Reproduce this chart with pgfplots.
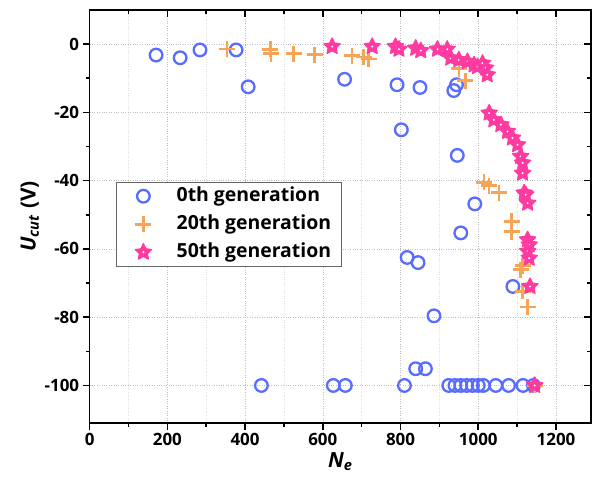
\documentclass[border=0pt]{standalone}
\usepackage{pgfplots}
\pgfplotsset{compat=1.18}
\usepackage{fontspec}
\setmainfont{Open Sans}
\definecolor{cblue}{RGB}{88,108,255}
\definecolor{corange}{RGB}{247,164,86}
\definecolor{cpink}{RGB}{255,58,160}
\pgfdeclareplotmark{pstar}{%
  \pgfpathmoveto{\pgfpointpolar{90}{\pgfplotmarksize}}%
  \pgfpathlineto{\pgfpointpolar{126}{0.5\pgfplotmarksize}}%
  \pgfpathlineto{\pgfpointpolar{162}{\pgfplotmarksize}}%
  \pgfpathlineto{\pgfpointpolar{198}{0.5\pgfplotmarksize}}%
  \pgfpathlineto{\pgfpointpolar{234}{\pgfplotmarksize}}%
  \pgfpathlineto{\pgfpointpolar{270}{0.5\pgfplotmarksize}}%
  \pgfpathlineto{\pgfpointpolar{306}{\pgfplotmarksize}}%
  \pgfpathlineto{\pgfpointpolar{342}{0.5\pgfplotmarksize}}%
  \pgfpathlineto{\pgfpointpolar{18}{\pgfplotmarksize}}%
  \pgfpathlineto{\pgfpointpolar{54}{0.5\pgfplotmarksize}}%
  \pgfpathclose\pgfusepathqfillstroke
  \begin{pgfscope}%
  \pgfsetfillcolor{white}%
  \pgfpathcircle{\pgfpointorigin}{0.13\pgfplotmarksize}\pgfusepathqfill
  \end{pgfscope}%
}
\pgfplotstableread{
x y
171 -3.2
233 -4.0
284 -1.7
377 -1.7
408 -12.5
656 -10.3
791 -11.9
850 -12.7
937 -13.6
944 -11.9
802 -25.1
946 -32.6
991 -46.8
955 -55.3
817 -62.5
845 -64.0
1089 -71.0
886 -79.6
839 -95.1
864 -95.1
442 -100
627 -100
658 -100
810 -100
924 -100
940 -100
955 -100
970 -100
985 -100
1000 -100
1013 -100
1045 -100
1078 -100
1115 -100
1142 -100
}\gzero
\pgfplotstableread{
x y
353 -1.4
465 -1.5
467 -2.8
525 -2.8
579 -3.1
675 -3.4
705 -3.8
718 -4.4
950 -7.2
967 -10.7
1015 -40.5
1028 -41.5
1053 -43.5
1086 -51.9
1086 -54.9
1114 -64.9
1109 -66.1
1114 -72.4
1127 -77.0
1145 -100
}\gtwenty
\pgfplotstableread{
x y
624 -0.7
727 -0.7
787 -0.7
796 -1.5
839 -1.2
852 -1.9
895 -1.5
920 -1.5
929 -4.1
950 -4.6
972 -5.1
989 -6.1
998 -6.6
1011 -5.6
1019 -7.0
1023 -9.0
1028 -20.2
1040 -22.2
1058 -23.6
1075 -25.6
1088 -27.5
1101 -29.5
1109 -32.9
1114 -34.8
1114 -37.8
1118 -43.6
1122 -44.1
1127 -46.6
1127 -57.3
1131 -58.8
1127 -60.7
1131 -62.7
1133 -71.0
1145 -100
}\gfifty
\begin{document}
\begin{tikzpicture}
\path[use as bounding box] (-89.6bp,-64bp) rectangle (503.4bp,423bp);
\pgfplotsset{
  common/.style={
    scale only axis, width=501.4bp, height=413bp,
    xmin=0, xmax=1290, ymin=-111, ymax=10,
    xtick={0,200,...,1200}, ytick={-100,-80,...,0},
    minor x tick num=1, minor y tick num=1,
    axis line style={line width=1.6bp},
    major tick length=7bp, minor tick length=4bp,
    every tick/.style={black, line width=1.6bp},
  }
}
\begin{axis}[common,
  tick align=outside, tick pos=left,
  grid=major, major grid style={dotted, gray!50, line width=0.6bp},
  minor x grid style={dotted, gray!25, line width=0.5bp},
  xminorgrids=true,
  ticklabel style={font=\fontsize{17}{19}\selectfont\bfseries},
  /pgf/number format/assume math mode=true,
  /pgf/number format/1000 sep={},
  xlabel={\textbf{\textit{N}\textsubscript{\textit{e}}}},
  ylabel={\textbf{\textit{U}\textsubscript{\textit{cut}} (V)}},
  label style={font=\fontsize{21}{24}\selectfont},
  xlabel style={at={(axis description cs:0.5,-0.094)}, anchor=center},
  ylabel style={at={(axis description cs:-0.119,0.5)}, anchor=center, rotate=0},
  legend style={at={(axis description cs:0.052,0.584)}, anchor=north west,
    draw=gray!80!black, line width=0.8bp, font=\fontsize{19.5}{22}\selectfont\bfseries,
    inner xsep=4bp, inner ysep=0bp, row sep=0bp,
    nodes={text height=15bp, text depth=5bp, inner ysep=4bp, inner xsep=6bp}},
  legend cell align=left,
  legend image code/.code={\path (0,0) (40bp,0); \draw plot coordinates {(22bp,0)};},
]
\addplot[only marks, mark=o, mark size=6.3bp, cblue, line width=2.3bp] table[x=x,y=y] {\gzero};
\addlegendentry{\mbox{}\hspace*{8bp}0th generation}
\addplot[only marks, mark=+, mark size=8bp, corange, line width=2.6bp] table[x=x,y=y] {\gtwenty};
\addlegendentry{\mbox{}\hspace*{8bp}20th generation}
\addplot[only marks, mark=pstar, mark size=8.5bp, draw=cpink, fill=cpink, line width=1.2bp, line join=round] table[x=x,y=y] {\gfifty};
\addlegendentry{\mbox{}\hspace*{8bp}50th generation}
\end{axis}
\begin{axis}[common,
  tick align=inside, xtick pos=right, ytick pos=right,
  xticklabels={}, yticklabels={},
]
\end{axis}
\end{tikzpicture}
\end{document}
